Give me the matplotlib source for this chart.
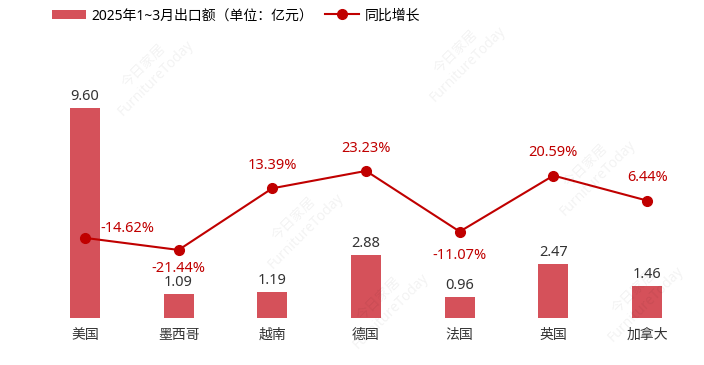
import matplotlib.pyplot as plt

plt.rcParams['font.family'] = ['Noto Sans', 'Noto Sans CJK SC', 'DejaVu Sans']

countries = ['美国', '墨西哥', '越南', '德国', '法国', '英国', '加拿大']
exports = [9.60, 1.09, 1.19, 2.88, 0.96, 2.47, 1.46]
growth = [-14.62, -21.44, 13.39, 23.23, -11.07, 20.59, 6.44]

bar_color = '#d5515a'
line_color = '#c00000'

fig = plt.figure(figsize=(7.04, 3.65), dpi=100)
ax = fig.add_axes([38 / 704, 47 / 365, 656 / 704, 258 / 365])
x = range(len(countries))

bars = ax.bar(x, exports, width=0.32, color=bar_color, label='2025年1~3月出口额（单位：亿元）', zorder=2)
ax.set_xlim(-0.5, len(countries) - 0.5)
ax.set_ylim(0, 11.78)
for xi, v in zip(x, exports):
    ax.annotate(f'{v:.2f}', (xi, v), xytext=(0, 3), textcoords='offset points',
                ha='center', va='bottom', fontsize=10.5, color='#333333')
ax.set_xticks(list(x))
ax.set_xticklabels(countries, fontsize=10, color='#333333')
ax.tick_params(axis='x', length=0, pad=7)
ax.set_yticks([])
for s in ax.spines.values():
    s.set_visible(False)

ax2 = ax.twinx()
ax2.set_ylim(-59.9, 85.9)
line, = ax2.plot(x, growth, color=line_color, lw=1.5, marker='o', ms=7,
                 label='同比增长', zorder=3)
ax2.set_yticks([])
for s in ax2.spines.values():
    s.set_visible(False)

offsets = [(11, 1), (0, -8), (0, 11), (0, 11), (0, -12), (0, 11), (0, 11)]
for xi, g, off in zip(x, growth, offsets):
    ax2.annotate(f'{g:.2f}%', (xi, g), xytext=off, textcoords='offset points',
                 ha='left' if off[0] > 0 else 'center',
                 va='bottom' if off[1] > 0 else 'top',
                 fontsize=10.5, color=line_color)

# faint watermarks
wm = [(150, 72), (462, 58), (592, 172), (300, 225), (385, 305), (640, 298)]
for px, py in wm:
    fig.text(px / 704, 1 - py / 365, '今日家居\nFurnitureToday', rotation=45,
             ha='center', va='center', fontsize=10, color='#000000', alpha=0.05,
             linespacing=1.1)

fig.legend(handles=[bars, line], loc='upper left', bbox_to_anchor=(44 / 704, 1.0),
           ncol=2, frameon=False, fontsize=10, handlelength=2.4, columnspacing=0.9,
           handletextpad=0.4, borderaxespad=0.2)

fig.savefig('out.png', dpi=100)
